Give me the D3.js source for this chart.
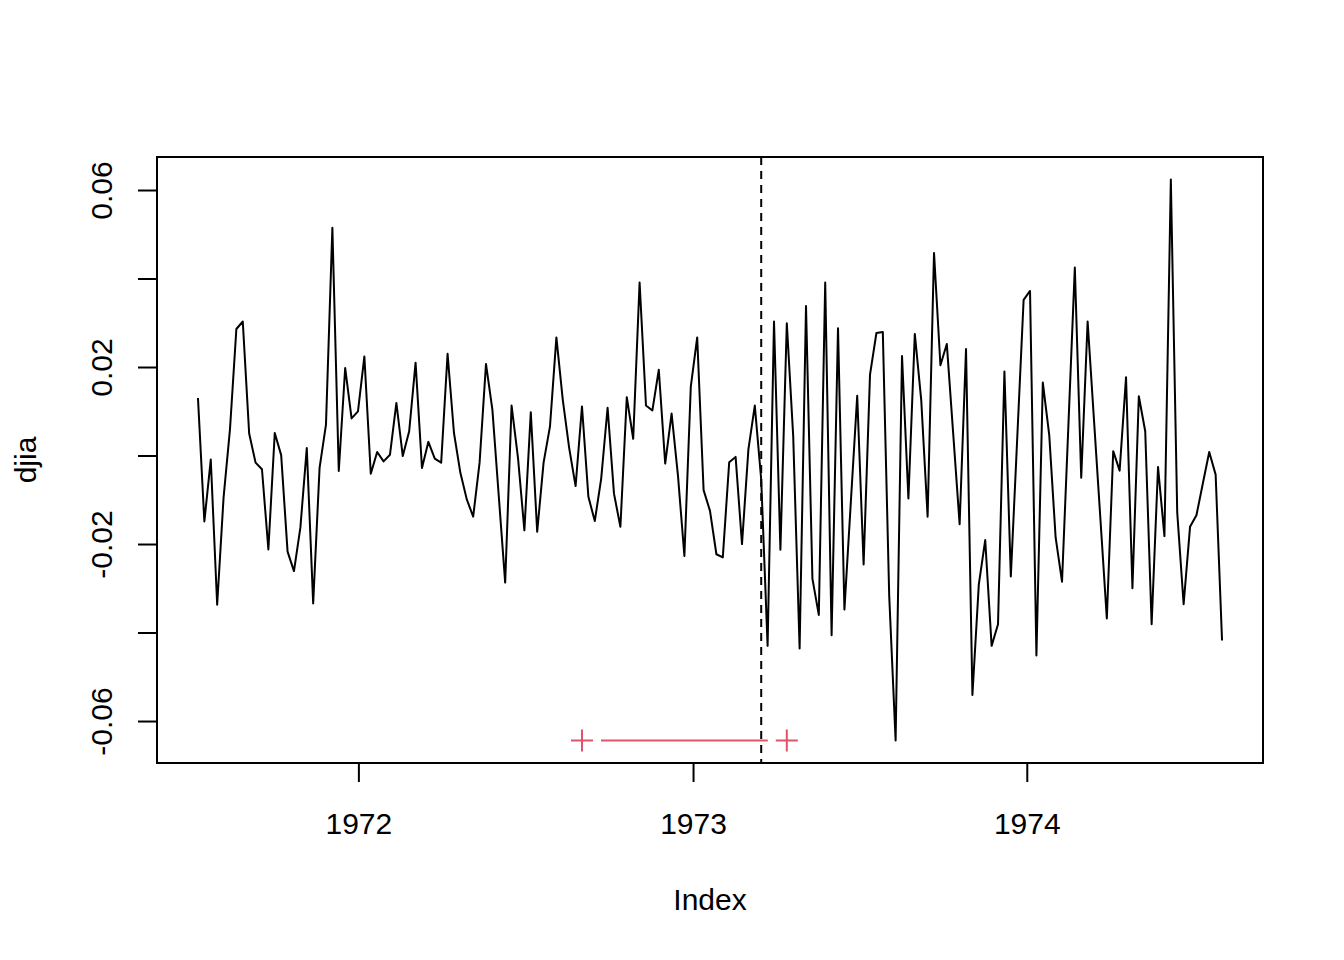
<!DOCTYPE html>
<html>
<head>
<meta charset="utf-8">
<script src="https://cdn.jsdelivr.net/npm/d3@7"></script>
<style>
  body { margin: 0; background: #fff; }
  svg { display: block; font-family: "Liberation Sans", Arial, sans-serif; }
</style>
</head>
<body>
<svg id="chart" width="1344" height="960"></svg>
<script>
// weekly DJIA returns, first obs 1971-07-09, one per week
const startDate = new Date(Date.UTC(1971, 6, 9));
const djia = [
  0.0131, -0.0148, -0.0008, -0.0336, -0.0094, 0.0060, 0.0287, 0.0304, 0.0051, -0.0015,
  -0.0030, -0.0211, 0.0052, 0.0002, -0.0216, -0.0260, -0.0162, 0.0018, -0.0333, -0.0027,
  0.0071, 0.0516, -0.0034, 0.0199, 0.0085, 0.0101, 0.0225, -0.0040, 0.0009, -0.0012,
  0.0003, 0.0120, 0.0000, 0.0056, 0.0211, -0.0027, 0.0032, -0.0006, -0.0015, 0.0231,
  0.0052, -0.0038, -0.0098, -0.0137, -0.0015, 0.0208, 0.0105, -0.0091, -0.0286, 0.0114,
  -0.0004, -0.0168, 0.0099, -0.0171, -0.0015, 0.0067, 0.0268, 0.0127, 0.0018, -0.0068,
  0.0112, -0.0092, -0.0147, -0.0051, 0.0109, -0.0085, -0.0160, 0.0133, 0.0039, 0.0392,
  0.0114, 0.0103, 0.0195, -0.0017, 0.0096, -0.0045, -0.0226, 0.0157, 0.0268, -0.0077,
  -0.0124, -0.0222, -0.0229, -0.0014, -0.0002, -0.0199, 0.0015, 0.0114, -0.0053, -0.0429,
  0.0304, -0.0212, 0.0300, 0.0045, -0.0435, 0.0339, -0.0277, -0.0359, 0.0392, -0.0405,
  0.0289, -0.0347, -0.0105, 0.0136, -0.0245, 0.0184, 0.0278, 0.0280, -0.0316, -0.0643,
  0.0226, -0.0096, 0.0276, 0.0127, -0.0137, 0.0459, 0.0205, 0.0253, 0.0050, -0.0154,
  0.0242, -0.0540, -0.0290, -0.0190, -0.0429, -0.0380, 0.0191, -0.0272, 0.0040, 0.0353,
  0.0373, -0.0451, 0.0166, 0.0048, -0.0184, -0.0284, 0.0071, 0.0426, -0.0049, 0.0304,
  0.0080, -0.0143, -0.0367, 0.0011, -0.0033, 0.0178, -0.0299, 0.0135, 0.0056, -0.0380,
  -0.0025, -0.0181, 0.0625, -0.0128, -0.0335, -0.0160, -0.0134, -0.0062, 0.0009, -0.0042,
  -0.0417
];

// breakpoint and its confidence interval (observation numbers, 1-based)
const breakObs = 89;
const ciLowerObs = 61;
const ciUpperObs = 93;

const xTickYears = [1972, 1973, 1974];
const yTicks = [-0.06, -0.04, -0.02, 0, 0.02, 0.04, 0.06];
const yLabelled = [-0.06, -0.02, 0.02, 0.06];

const dateOf = i => d3.utcDay.offset(startDate, 7 * (i - 1));
const data = djia.map((v, i) => ({ date: dateOf(i + 1), value: v }));

const box = { left: 157, right: 1263, top: 157, bottom: 763 };
const red = '#DF536B';
const fontSize = 30;

// R style 4% padding
const pad = ([a, b]) => { const d = (b - a) * 0.04; return [a - d, b + d]; };
const xExt = d3.extent(data, d => +d.date);
const xPad = pad(xExt);
const x = d3.scaleUtc()
    .domain([new Date(xPad[0]), new Date(xPad[1])])
    .range([box.left, box.right]);
const y = d3.scaleLinear()
    .domain(pad(d3.extent(djia)))
    .range([box.bottom, box.top]);

const svg = d3.select('#chart');

// data line
const line = d3.line()
    .x(d => x(d.date))
    .y(d => y(d.value));

svg.append('path')
    .datum(data)
    .attr('d', line)
    .style('fill', 'none')
    .style('stroke', '#000')
    .style('stroke-width', 2)
    .style('stroke-linejoin', 'round');

// breakpoint
svg.append('line')
    .attr('x1', x(dateOf(breakObs))).attr('x2', x(dateOf(breakObs)))
    .attr('y1', box.top).attr('y2', box.bottom)
    .style('stroke', '#000')
    .style('stroke-width', 2)
    .style('stroke-dasharray', '8,6');

// confidence interval, drawn like type = "b"
const ciAt = y(d3.min(djia));
const ciL = x(dateOf(ciLowerObs));
const ciU = x(dateOf(ciUpperObs));
const gap = 19;
const arm = 11;
svg.append('line')
    .attr('x1', ciL + gap).attr('x2', ciU - gap)
    .attr('y1', ciAt).attr('y2', ciAt)
    .style('stroke', red).style('stroke-width', 2);
[ciL, ciU].forEach(cx => {
    svg.append('path')
        .attr('d', `M${cx - arm},${ciAt}H${cx + arm}M${cx},${ciAt - arm}V${ciAt + arm}`)
        .style('stroke', red).style('stroke-width', 2).style('fill', 'none');
});

// box
svg.append('rect')
    .attr('x', box.left).attr('y', box.top)
    .attr('width', box.right - box.left).attr('height', box.bottom - box.top)
    .style('fill', 'none').style('stroke', '#000').style('stroke-width', 2);

// x axis
const tickLen = 19;
xTickYears.forEach(yr => {
    const tx = x(new Date(Date.UTC(yr, 0, 1)));
    svg.append('line')
        .attr('x1', tx).attr('x2', tx)
        .attr('y1', box.bottom).attr('y2', box.bottom + tickLen)
        .style('stroke', '#000').style('stroke-width', 2);
    svg.append('text')
        .attr('x', tx).attr('y', 834)
        .attr('text-anchor', 'middle')
        .style('font-size', fontSize + 'px')
        .text(yr);
});

// y axis
const fmt = v => (v < 0 ? '-' : '') + Math.abs(v).toFixed(2);
yTicks.forEach(v => {
    const ty = y(v);
    svg.append('line')
        .attr('x1', box.left - tickLen).attr('x2', box.left)
        .attr('y1', ty).attr('y2', ty)
        .style('stroke', '#000').style('stroke-width', 2);
});
yLabelled.forEach(v => {
    svg.append('text')
        .attr('transform', `translate(112,${y(v)}) rotate(-90)`)
        .attr('text-anchor', 'middle')
        .style('font-size', fontSize + 'px')
        .text(fmt(v));
});

// axis titles
svg.append('text')
    .attr('x', (box.left + box.right) / 2).attr('y', 910)
    .attr('text-anchor', 'middle')
    .style('font-size', fontSize + 'px')
    .text('Index');
svg.append('text')
    .attr('transform', `translate(36,${(box.top + box.bottom) / 2}) rotate(-90)`)
    .attr('text-anchor', 'middle')
    .style('font-size', fontSize + 'px')
    .text('djia');
</script>
</body>
</html>
